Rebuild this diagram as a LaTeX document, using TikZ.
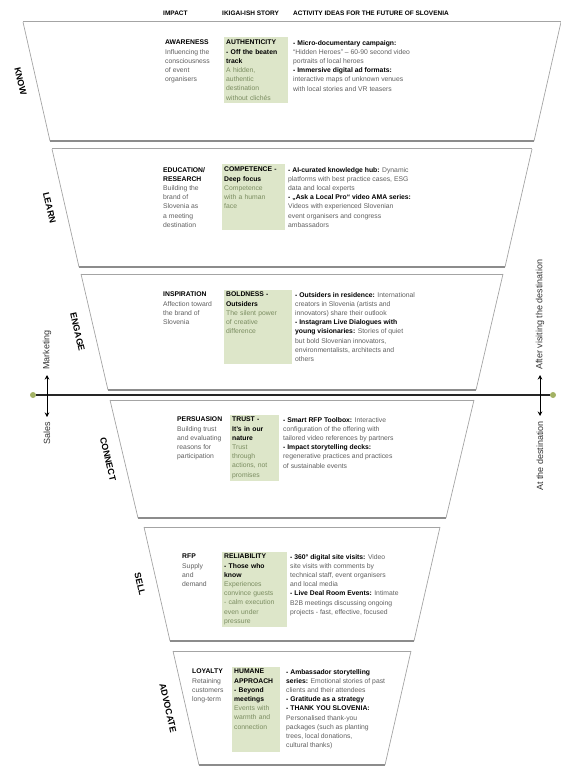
\documentclass[tikz,border=0pt]{standalone}
\usepackage{fontspec}
\setmainfont{Liberation Sans}
\usetikzlibrary{calc,backgrounds,arrows.meta}
\definecolor{cellgreen}{HTML}{DDE6C9}
\definecolor{celltext}{HTML}{7A8C60}
\definecolor{desc}{HTML}{5E5E5E}
\definecolor{edgegray}{HTML}{A4A4A4}
\definecolor{edgedark}{HTML}{8C8C8C}
\definecolor{dotgreen}{HTML}{A3B264}
\newcommand\trapz[5]{%
  \coordinate (#1tl) at (#4,#2);
  \coordinate (#1tr) at ({584-#4},#2);
  \coordinate (#1bl) at (#5,#3);
  \coordinate (#1br) at ({584-#5},#3);
  \draw[sideedge] (#1tl) -- (#1bl);
  \draw[sideedge] (#1tr) -- (#1br);
  \draw[topedge] (#1tl) -- (#1tr);
  \draw[botedge] (#1bl) -- (#1br);
}
\newcommand\greencell[2]{%
  \path let \p1=(#1.north west), \p2=(#1.south east), \p3=(#2.south) in
    [fill=cellgreen] ({\x1-2pt},{\y1+2.5pt}) rectangle ({\x2+2pt},{min(\y2,\y3)-2.5pt});
}
\begin{document}
\begin{tikzpicture}[x=1pt,y=-1pt,
  coltext/.style={anchor=north west, inner sep=0pt, align=left,
    font=\fontsize{6.8}{9.2}\selectfont, text=desc},
  greentext/.style={coltext, text=celltext},
  stagelabel/.style={font=\bfseries\fontsize{9}{10}\selectfont, rotate=-77, inner sep=0pt},
  header/.style={anchor=west, inner sep=0pt, font=\bfseries\fontsize{6.5}{7}\selectfont},
  sidelabel/.style={font=\fontsize{9}{10}\selectfont, rotate=90, inner sep=0pt, text=black!80},
  sideedge/.style={draw=edgegray, line width=0.7pt},
  topedge/.style={draw=edgegray, line width=1pt},
  botedge/.style={draw=edgedark, line width=1.4pt},
  dot/.style={circle, fill=dotgreen, inner sep=0pt, minimum size=6pt},
  axisline/.style={draw=black!85, line width=1.4pt},
  dblarrow/.style={{Stealth[length=4.5pt,width=4.5pt]}-{Stealth[length=4.5pt,width=4.5pt]}, line width=0.8pt, black}
]
\useasboundingbox (0,0) rectangle (561,767);

% header
\node[header] (h1) at (163,13) {IMPACT};
\node[header] (h2) at (222,13) {IKIGAI-ISH STORY};
\node[header] (h3) at (293,13) {ACTIVITY IDEAS FOR THE FUTURE OF SLOVENIA};

% trapezoids
\trapz{know}{22}{141}{23}{50}
\trapz{learn}{149}{267}{52}{79}
\trapz{engage}{274}{390}{81}{108}
\trapz{connect}{400}{518}{110}{138}
\trapz{sell}{527}{641}{144}{170}
\trapz{advocate}{651}{765}{173}{199}

% stage labels
\node[stagelabel] (knowlab) at ($(knowtl)!0.5!(knowbl)+(-16,0)$) {KNOW};
\node[stagelabel] (learnlab) at ($(learntl)!0.5!(learnbl)+(-16,0)$) {LEARN};
\node[stagelabel] (engagelab) at ($(engagetl)!0.5!(engagebl)+(-17,0)$) {ENGAGE};
\node[stagelabel] (connectlab) at ($(connecttl)!0.5!(connectbl)+(-16,0)$) {CONNECT};
\node[stagelabel] (selllab) at ($(selltl)!0.5!(sellbl)+(-17,0)$) {SELL};
\node[stagelabel] (advocatelab) at ($(advocatetl)!0.5!(advocatebl)+(-18,0)$) {ADVOCATE};

% axis
\node[dot] (ldot) at (33,395) {};
\node[dot] (rdot) at (553,395) {};
\draw[axisline] (ldot) -- (rdot);
\coordinate (lup) at (47,375);
\coordinate (ldown) at (47,417);
\coordinate (rup) at (540,375);
\coordinate (rdown) at (540,416);
\draw[dblarrow] (lup) -- (ldown);
\draw[dblarrow] (rup) -- (rdown);
\node[sidelabel, anchor=west] (mkt) at (47,370) {Marketing};
\node[sidelabel, anchor=east] (sales) at (47,422) {Sales};
\node[sidelabel, anchor=west] (after) at (540,370) {After visiting the destination};
\node[sidelabel, anchor=east] (atdest) at (540,421) {At the destination};

% row 1
\node[coltext] (l1) at (165,40) {\textcolor{black}{\textbf{AWARENESS}}\\Influencing the\\consciousness\\of event\\organisers};
\node[greentext, text width=60pt] (g1) at (226,40) {\textcolor{black}{\textbf{AUTHENTICITY}}\\\textcolor{black}{\textbf{- Off the beaten}}\\\textcolor{black}{\textbf{track}}\\A hidden,\\authentic\\destination\\without clichés};
\node[coltext] (r1) at (293,40) {\textcolor{black}{\textbf{- Micro-documentary campaign:}}\\“Hidden Heroes” – 60-90 second video\\portraits of local heroes\\\textcolor{black}{\textbf{- Immersive digital ad formats:}}\\interactive maps of unknown venues\\with local stories and VR teasers};

% row 2
\node[coltext] (l2) at (163,167) {\textcolor{black}{\textbf{EDUCATION/}}\\\textcolor{black}{\textbf{RESEARCH}}\\Building the\\brand of\\Slovenia as\\a meeting\\destination};
\node[greentext, text width=59pt] (g2) at (224,167) {\textcolor{black}{\textbf{COMPETENCE -}}\\\textcolor{black}{\textbf{Deep focus}}\\Competence\\with a human\\face};
\node[coltext] (r2) at (288,167) {\textcolor{black}{\textbf{- AI-curated knowledge hub:}} Dynamic\\platforms with best practice cases, ESG\\data and local experts\\\textcolor{black}{\textbf{- „Ask a Local Pro“ video AMA series:}}\\Videos with experienced Slovenian\\event organisers and congress\\ambassadors};

% row 3
\node[coltext] (l3) at (163,292) {\textcolor{black}{\textbf{INSPIRATION}}\\Affection toward\\the brand of\\Slovenia};
\node[greentext, text width=64pt] (g3) at (226,292) {\textcolor{black}{\textbf{BOLDNESS -}}\\\textcolor{black}{\textbf{Outsiders}}\\The silent power\\of creative\\difference};
\node[coltext] (r3) at (295,292) {\textcolor{black}{\textbf{- Outsiders in residence:}} International\\creators in Slovenia (artists and\\innovators) share their outlook\\\textcolor{black}{\textbf{- Instagram Live Dialogues with}}\\\textcolor{black}{\textbf{young visionaries:}} Stories of quiet\\but bold Slovenian innovators,\\environmentalists, architects and\\others};

% row 4
\node[coltext] (l4) at (177,417) {\textcolor{black}{\textbf{PERSUASION}}\\Building trust\\and evaluating\\reasons for\\participation};
\node[greentext, text width=45pt] (g4) at (232,417) {\textcolor{black}{\textbf{TRUST -}}\\\textcolor{black}{\textbf{It's in our}}\\\textcolor{black}{\textbf{nature}}\\Trust\\through\\actions, not\\promises};
\node[coltext] (r4) at (283,417) {\textcolor{black}{\textbf{- Smart RFP Toolbox:}} Interactive\\configuration of the offering with\\tailored video references by partners\\\textcolor{black}{\textbf{- Impact storytelling decks:}}\\regenerative practices and practices\\of sustainable events};

% row 5
\node[coltext] (l5) at (182,554) {\textcolor{black}{\textbf{RFP}}\\Supply\\and\\demand};
\node[greentext, text width=61pt] (g5) at (224,554) {\textcolor{black}{\textbf{RELIABILITY}}\\\textcolor{black}{\textbf{- Those who}}\\\textcolor{black}{\textbf{know}}\\Experiences\\convince guests\\- calm execution\\even under\\pressure};
\node[coltext] (r5) at (290,554) {\textcolor{black}{\textbf{- 360° digital site visits:}} Video\\site visits with comments by\\technical staff, event organisers\\and local media\\\textcolor{black}{\textbf{- Live Deal Room Events:}} Intimate\\B2B meetings discussing ongoing\\projects - fast, effective, focused};

% row 6
\node[coltext] (l6) at (192,669) {\textcolor{black}{\textbf{LOYALTY}}\\Retaining\\customers\\long-term};
\node[greentext, text width=44pt] (g6) at (234,669) {\textcolor{black}{\textbf{HUMANE}}\\\textcolor{black}{\textbf{APPROACH}}\\\textcolor{black}{\textbf{- Beyond}}\\\textcolor{black}{\textbf{meetings}}\\Events with\\warmth and\\connection};
\node[coltext] (r6) at (286,669) {\textcolor{black}{\textbf{- Ambassador storytelling}}\\\textcolor{black}{\textbf{series:}} Emotional stories of past\\clients and their attendees\\\textcolor{black}{\textbf{- Gratitude as a strategy}}\\\textcolor{black}{\textbf{- THANK YOU SLOVENIA:}}\\Personalised thank-you\\packages (such as planting\\trees, local donations,\\cultural thanks)};

% green cells
\begin{scope}[on background layer]
\greencell{g1}{r1}
\greencell{g2}{r2}
\greencell{g3}{r3}
\greencell{g4}{r4}
\greencell{g5}{r5}
\greencell{g6}{r6}
\end{scope}
\end{tikzpicture}
\end{document}
